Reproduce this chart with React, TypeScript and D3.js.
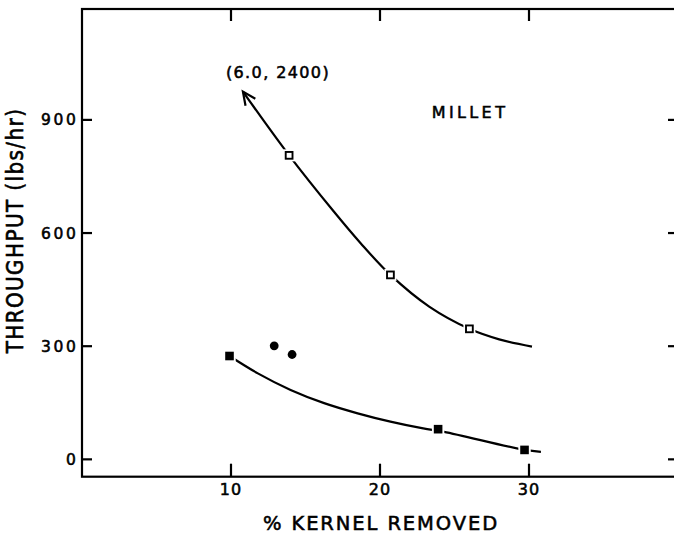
import * as d3 from "d3";
import React from "react";

// values
const xTicks = [10, 20, 30];
const yTicks = [0, 300, 600, 900];

// open squares
const openX = [13.9, 20.7, 26.0];
const openY = [806, 489, 346];
// filled squares
const filledX = [9.9, 23.9, 29.7];
const filledY = [274, 80, 25];
// filled circles
const dotX = [12.9, 14.1];
const dotY = [301, 278];

// hand-drawn fitted curves
const upperX = [10.8, 13.9, 16.9, 18.7, 20.7, 23.3, 26.0, 28.0, 30.2];
const upperY = [975, 806, 657, 573, 489, 405, 346, 318, 299];
const lowerX = [9.9, 11.8, 14.0, 16.25, 18.5, 20.7, 22.9, 24.3, 29.7, 30.8];
const lowerY = [274, 228, 184, 149, 122, 100, 82, 73, 25, 20];

const W = 674, H = 535;
const font = "'DejaVu Sans', sans-serif";
// the lettering in the scan is heavier than a plain regular face
const ink = { fill: "#000", stroke: "#000", strokeWidth: 0.55 };

const x = d3.scaleLinear().domain([0, 40]).range([82, 678]);
const y = d3.scaleLinear().domain([-46, 1194]).range([476.7, 9]);

const line = d3.line<[number, number]>()
  .x((d) => x(d[0]))
  .y((d) => y(d[1]))
  .curve(d3.curveCatmullRom.alpha(0.5));

const zip = (a: number[], b: number[]) => a.map((v, i) => [v, b[i]] as [number, number]);

export default function App() {
  const x0 = x.range()[0], x1 = x.range()[1];
  const yTop = y.range()[1], yBot = y.range()[0];
  return (
    <svg width={W} height={H} style={{ position: "absolute", left: 0, top: 0, background: "#fff" }}>
      <defs>
        <marker id="arrowHead" markerUnits="userSpaceOnUse" markerWidth={30} markerHeight={30}
          viewBox="-15 -15 30 30" refX={0} refY={0} orient="auto-start-reverse" overflow="visible">
          <path d="M-13,-6 L0,0 L-13,6" fill="none" stroke="#000" strokeWidth={2.2} />
        </marker>
      </defs>

      {/* frame */}
      <rect x={x0} y={yTop} width={x1 - x0} height={yBot - yTop} fill="none" stroke="#000" strokeWidth={2.2} />

      {/* ticks, all pointing inward */}
      {xTicks.map((t) => (
        <g key={"xt" + t}>
          <line x1={x(t)} x2={x(t)} y1={yBot} y2={yBot - 13} stroke="#000" strokeWidth={2.2} />
          <line x1={x(t)} x2={x(t)} y1={yTop} y2={yTop + 12} stroke="#000" strokeWidth={2.2} />
          <text x={x(t)} y={495} textAnchor="middle" fontFamily={font} fontSize={16} letterSpacing={1} {...ink}>{t}</text>
        </g>
      ))}
      {yTicks.map((t) => (
        <g key={"yt" + t}>
          <line x1={x0} x2={x0 + 10} y1={y(t)} y2={y(t)} stroke="#000" strokeWidth={2.2} />
          <line x1={x1} x2={x1 - 10} y1={y(t)} y2={y(t)} stroke="#000" strokeWidth={2.2} />
          <text x={78.5} y={y(t)} dy="0.36em" textAnchor="end" fontFamily={font} fontSize={15.5} letterSpacing={2.6} {...ink}>{t}</text>
        </g>
      ))}

      {/* axis titles */}
      <text x={381} y={530} textAnchor="middle" fontFamily={font} fontSize={19.5} letterSpacing={1.9} {...ink}>% KERNEL REMOVED</text>
      <text transform="translate(22.5,230.5) rotate(-90) scale(1,1.12)" textAnchor="middle"
        fontFamily={font} fontSize={20} letterSpacing={1.4} {...ink}>THROUGHPUT (lbs/hr)</text>

      {/* annotations */}
      <text x={278} y={78.3} textAnchor="middle" fontFamily={font} fontSize={16} letterSpacing={1.4} {...ink}>(6.0, 2400)</text>
      <text x={470} y={117.7} textAnchor="middle" fontFamily={font} fontSize={16} letterSpacing={3.4} {...ink}>MILLET</text>

      {/* curves */}
      <path d={line(zip(upperX, upperY)) || ""} fill="none" stroke="#000" strokeWidth={2.2} markerStart="url(#arrowHead)" />
      <path d={line(zip(lowerX, lowerY)) || ""} fill="none" stroke="#000" strokeWidth={2.2} />

      {/* markers, with a white halo so the lines break around them */}
      {openX.map((v, i) => (
        <g key={"o" + i}>
          <rect x={x(v) - 6} y={y(openY[i]) - 6} width={12} height={12} fill="#fff" />
          <rect x={x(v) - 3.4} y={y(openY[i]) - 3.4} width={6.8} height={6.8} fill="#fff" stroke="#000" strokeWidth={1.9} />
        </g>
      ))}
      {filledX.map((v, i) => (
        <g key={"f" + i}>
          <rect x={x(v) - 6.2} y={y(filledY[i]) - 6.2} width={12.4} height={12.4} fill="#fff" />
          <rect x={x(v) - 4.3} y={y(filledY[i]) - 4.3} width={8.6} height={8.6} fill="#000" />
        </g>
      ))}
      {dotX.map((v, i) => (
        <circle key={"c" + i} cx={x(v)} cy={y(dotY[i])} r={4.4} fill="#000" />
      ))}
    </svg>
  );
}
